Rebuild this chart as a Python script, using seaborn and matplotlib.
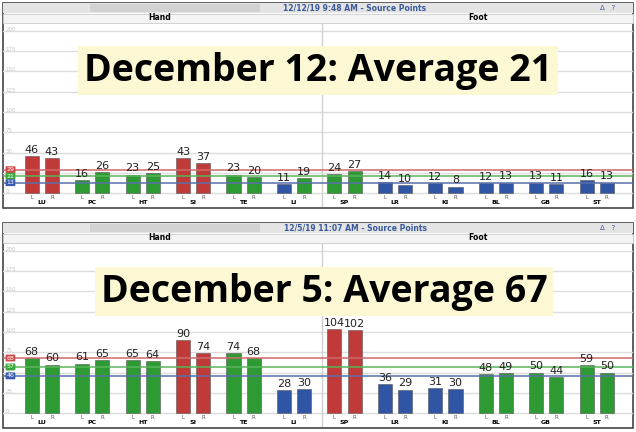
import matplotlib
matplotlib.use("Agg")
import matplotlib.pyplot as plt
import matplotlib.patches as mpatches
import seaborn as sns
import pandas as pd

W, H = 636, 432

groups = ["LU", "PC", "HT", "SI", "TE", "LI", "SP", "LR", "KI", "BL", "GB", "ST"]
sides = ["L", "R"]

dec12_values = [46, 43, 16, 26, 23, 25, 43, 37, 23, 20, 11, 19,
                24, 27, 14, 10, 12, 8, 12, 13, 13, 11, 16, 13]
dec12_status = ["hi", "hi", "ok", "ok", "ok", "ok", "hi", "hi", "ok", "ok", "lo", "ok",
                "ok", "ok", "lo", "lo", "lo", "lo", "lo", "lo", "lo", "lo", "lo", "lo"]
dec12_lines = [29, 21, 13]

dec5_values = [68, 60, 61, 65, 65, 64, 90, 74, 74, 68, 28, 30,
               104, 102, 36, 29, 31, 30, 48, 49, 50, 44, 59, 50]
dec5_status = ["ok", "ok", "ok", "ok", "ok", "ok", "hi", "hi", "ok", "ok", "lo", "lo",
               "hi", "hi", "lo", "lo", "lo", "lo", "ok", "ok", "ok", "ok", "ok", "ok"]
dec5_lines = [68, 57, 46]

panels = [
    ("12/12/19 9:48 AM - Source Points", "December 12: Average 21", dec12_values, dec12_status, dec12_lines),
    ("12/5/19 11:07 AM - Source Points", "December 5: Average 67", dec5_values, dec5_status, dec5_lines),
]

COLORS = {"hi": "#c03a3a", "ok": "#2e9a34", "lo": "#2f55a4"}
LINE_COLORS = ["#cf6a6a", "#5ab55a", "#5a6fa8"]
BADGE_COLORS = ["#d04848", "#3aa83a", "#3a5cb0"]

fig = plt.figure(figsize=(W / 100, H / 100), dpi=100)


def fx(px):
    return px / W


def fy(py):
    return 1 - py / H


for i, (header, banner, values, status, lines) in enumerate(panels):
    off = 220 * i
    # frame, header bar, Hand/Foot strip
    fig.add_artist(mpatches.Rectangle((fx(3), fy(off + 208)), fx(630), (205) / H,
                                      facecolor="white", edgecolor="#444444", lw=1.2, zorder=-5))
    fig.add_artist(mpatches.Rectangle((fx(3), fy(off + 13)), fx(630), 10 / H,
                                      facecolor="#e4e4e4", edgecolor="none", zorder=-4))
    fig.add_artist(mpatches.Rectangle((fx(90), fy(off + 12)), fx(170), 8 / H,
                                      facecolor="#d2d2d2", edgecolor="none", zorder=-3))
    fig.add_artist(mpatches.Rectangle((fx(3), fy(off + 23)), fx(630), 9 / H,
                                      facecolor="#f4f4f4", edgecolor="#cccccc", lw=0.6, zorder=-4))
    fig.text(fx(355), fy(off + 8), header, ha="center", va="center",
             fontsize=5.5, color="#3a5a9a", fontweight="bold")
    fig.text(fx(608), fy(off + 8), "\u0394   ?", ha="center", va="center",
             fontsize=5, color="#3a5a9a")
    fig.text(fx(160), fy(off + 18), "Hand", ha="center", va="center", fontsize=5.5, fontweight="bold")
    fig.text(fx(478), fy(off + 18), "Foot", ha="center", va="center", fontsize=5.5, fontweight="bold")

    ax = fig.add_axes([fx(3), fy(off + 207), fx(630), (207 - 24) / H])
    df = pd.DataFrame({
        "group": [g for g in groups for _ in sides],
        "side": sides * len(groups),
        "value": values,
    })
    sns.barplot(data=df, x="group", y="value", hue="side", order=groups, hue_order=sides,
                width=0.8, gap=0.3, legend=False, ax=ax, zorder=3)
    bars = ax.patches
    n = len(groups)
    for k, p in enumerate(bars[:2 * n]):
        side_idx, g_idx = divmod(k, n)
        idx = g_idx * 2 + side_idx
        c = COLORS[status[idx]]
        p.set_facecolor(c)
        p.set_edgecolor("#555555")
        p.set_linewidth(0.4)
        ax.text(p.get_x() + p.get_width() / 2, values[idx] + 1.5, str(values[idx]),
                ha="center", va="bottom", fontsize=8, color="#222222", zorder=5)
        ax.text(p.get_x() + p.get_width() / 2, -5, sides[side_idx], ha="center",
                va="center", fontsize=4, color="#555555")
    for g_idx, g in enumerate(groups):
        ax.text(g_idx, -12, g, ha="center", va="center", fontsize=4.5, fontweight="bold")

    ax.set_xlim(-0.77, 11.72)
    ax.set_ylim(-17, 208.5)
    for yv in range(0, 201, 25):
        ax.axhline(yv, color="#dddddd", lw=1, zorder=1)
        ax.text(-0.72, yv + 2, str(yv), fontsize=4, color="#c8c8c8", va="center")
    ax.axvline(5.55, color="#d0d0d0", lw=1, zorder=1)
    for lv, lc, bc in zip(lines, LINE_COLORS, BADGE_COLORS):
        ax.axhline(lv, color=lc, lw=1.1, zorder=4)
        ax.text(-0.7, lv, str(lv), fontsize=4.5, color="white", va="center", zorder=6,
                bbox=dict(boxstyle="round,pad=0.15", fc=bc, ec="none"))
    ax.axis("off")

    ax.text(0.5 if i == 0 else 0.51, 0.745 if i == 0 else 0.74, banner, transform=ax.transAxes,
            ha="center", va="center", fontsize=27, fontweight="bold", family="Open Sans",
            zorder=7, bbox=dict(boxstyle="square,pad=0.15", fc="#fdf8d4", ec="none"))

fig.savefig("out.png", dpi=100)
